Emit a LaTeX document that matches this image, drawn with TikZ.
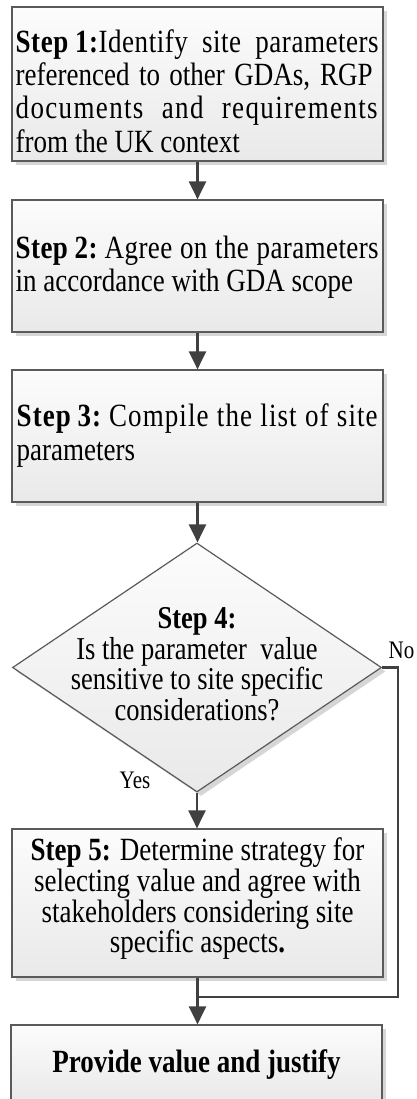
\documentclass[tikz,border=0pt]{standalone}
\usepackage{fontspec}
\setmainfont{Liberation Serif}
\usepackage{graphicx}
\usetikzlibrary{arrows.meta,shapes.geometric,shadows}
\definecolor{edgec}{HTML}{5A5A5A}
\definecolor{arrc}{HTML}{404040}
\definecolor{shad}{HTML}{D6D6D6}
\definecolor{filltop}{HTML}{FCFCFC}
\definecolor{fillbot}{HTML}{E9E9E9}
\newcommand\vs[1]{\scalebox{1}[1.2]{#1}}
\newcommand\jl[2]{\makebox[#1][s]{#2}}
\newcommand\bigfont{\fontsize{27pt}{27.75pt}\selectfont}
\newcommand\midfont{\fontsize{26.5pt}{25.83pt}\selectfont}
\newcommand\lblfont{\fontsize{21pt}{24pt}\selectfont}
\newcommand\fsp{\hspace{0.25em}}
\begin{document}
\begin{tikzpicture}[x=1pt,y=-1pt,
  stepbox/.style={rectangle, draw=edgec, line width=1.2pt,
    top color=filltop, bottom color=fillbot,
    drop shadow={shadow xshift=4pt, shadow yshift=-4pt, fill=shad, opacity=1},
    minimum width=371pt, inner sep=0pt},
  decision/.style={diamond, draw=edgec, line width=1.2pt,
    top color=filltop, bottom color=fillbot,
    drop shadow={shadow xshift=4pt, shadow yshift=-4pt, fill=shad, opacity=1},
    minimum width=369pt, minimum height=249pt, inner sep=0pt},
  flow/.style={draw=arrc, line width=2.5pt, -{Triangle[width=17pt,length=18pt]}},
  plain/.style={draw=arrc, line width=2.5pt},
  txt/.style={inner sep=0pt, text=black}]
\useasboundingbox (0,0) rectangle (416,1099);

% boxes
\node[stepbox, minimum height=154pt] (b1) at (197.5,84) {};
\node[stepbox, minimum height=132pt] (b2) at (197.5,266) {};
\node[stepbox, minimum height=132pt] (b3) at (197.5,436) {};
\node[decision] (d) at (197,667.5) {};
\node[stepbox, minimum height=148pt] (b5) at (197.5,903) {};
\node[stepbox, minimum height=77pt] (b6) at (196.5,1063.5) {};

% texts
\node[txt, anchor=base west] (t1) at (15.5,52.3) {\vs{\parbox[t]{365pt}{\bigfont
  {\addfontfeature{LetterSpace=2}\jl{363pt}{\textbf{Step\fsp 1:}Identify site parameters}}\par
  \jl{357pt}{referenced to other GDAs, RGP}\par
  {\addfontfeature{LetterSpace=5}\jl{362pt}{documents and requirements}}\par
  from the UK context}}};
\node[txt, anchor=base west] (t2) at (15.5,258.3) {\vs{\parbox[t]{365pt}{\bigfont
  {\addfontfeature{LetterSpace=1.5}\jl{363pt}{\textbf{Step\fsp 2:}\fsp Agree on the parameters}}\par
  in accordance with GDA scope}}};
\node[txt, anchor=base west] (t3) at (16.5,426.7) {\vs{\parbox[t]{365pt}{\bigfont
  {\addfontfeature{LetterSpace=4}\jl{361pt}{\textbf{Step\fsp 3:}\fsp Compile the list of site}}\par
  parameters}}};
\node[txt, anchor=base] (t4) at (197,628) {\vs{\parbox[t]{330pt}{\centering\midfont
  \textbf{Step 4:}\\
  Is the parameter\ \ value\\
  sensitive to site specific\\
  considerations?}}};
\node[txt, anchor=base] (t5) at (197.5,860) {\vs{\parbox[t]{368pt}{\centering\fontsize{27pt}{25.83pt}\selectfont
  \textbf{Step 5:} Determine strategy for\\
  selecting value and agree with\\
  stakeholders considering site\\
  specific aspects\textbf{.}}}};
\node[txt, anchor=base] (t6) at (196.5,1072) {\vs{\bigfont\textbf{Provide value and justify}}};

% labels
\node[txt, anchor=base] (no) at (401.5,658) {\vs{\lblfont No}};
\node[txt, anchor=base] (yes) at (135,788) {\vs{\lblfont Yes}};

% connectors
\draw[flow] (b1.south) -- (b2.north);
\draw[flow] (b2.south) -- (b3.north);
\draw[flow] (b3.south) -- (b3.south |- d.north);
\draw[flow] (d.south) -- (d.south |- b5.north);
\coordinate (r) at (398,997);
\coordinate (j) at (b5.south |- r);
\draw[plain] (d.east) -| (r) -- (j);
\draw[flow] (b5.south) -- (j |- b6.north);
\end{tikzpicture}
\end{document}
